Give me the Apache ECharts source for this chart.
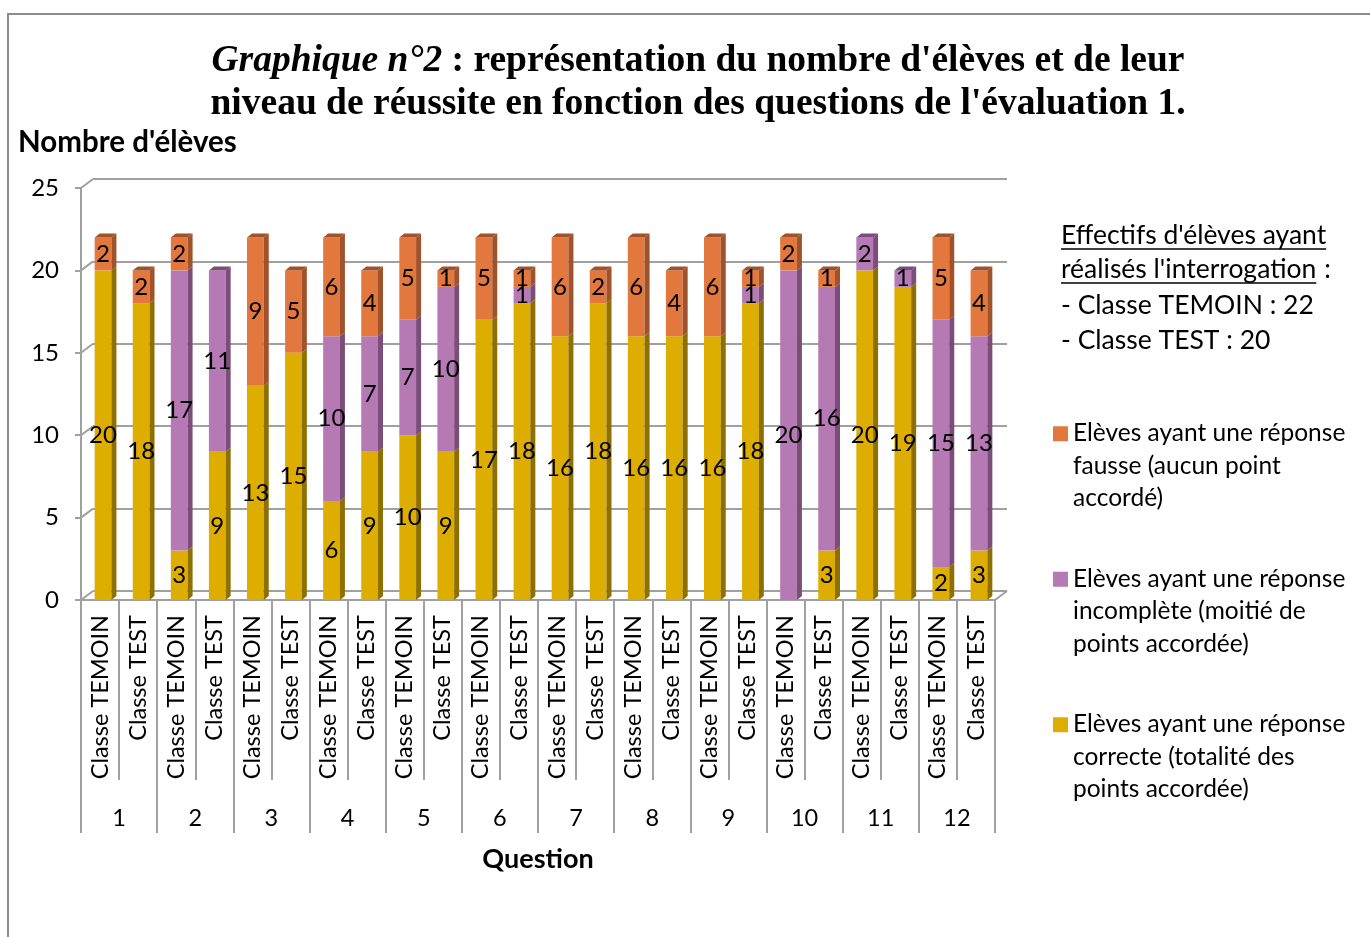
<!DOCTYPE html>
<html>
<head>
<meta charset="utf-8">
<script src="https://cdn.jsdelivr.net/npm/echarts@6/dist/echarts.min.js"></script>
<style>
  html, body { margin: 0; padding: 0; background: #fff; }
  #chart { width: 1370px; height: 937px; }
</style>
</head>
<body>
<div id="chart"></div>
<script>
// questions de l'évaluation et classes
var questions = ['1', '2', '3', '4', '5', '6', '7', '8', '9', '10', '11', '12'];
var classes = ['Classe TEMOIN', 'Classe TEST'];

// une valeur par barre : (Q1 TEMOIN, Q1 TEST, Q2 TEMOIN, ...)
var correcte = [20, 18, 3, 9, 13, 15, 6, 9, 10, 9, 17, 18, 16, 18, 16, 16, 16, 18, 0, 3, 20, 19, 2, 3];
var incomplete = [0, 0, 17, 11, 0, 0, 10, 7, 7, 10, 0, 1, 0, 0, 0, 0, 0, 1, 20, 16, 2, 1, 15, 13];
var fausse = [2, 2, 2, 0, 9, 5, 6, 4, 5, 1, 5, 1, 6, 2, 6, 4, 6, 1, 2, 1, 0, 0, 5, 4];

var yTicks = [0, 5, 10, 15, 20, 25];

var nomFausse = 'Elèves ayant une réponse\nfausse (aucun point\naccordé)';
var nomIncomplete = 'Elèves ayant une réponse\nincomplète (moitié de\npoints accordée)';
var nomCorrecte = 'Elèves ayant une réponse\ncorrecte (totalité des\npoints accordée)';

var FONT = 'Lato, "Noto Sans", sans-serif';

// libellés des barres
var barLabels = [];
for (var q = 0; q < questions.length; q++) {
  for (var c = 0; c < classes.length; c++) barLabels.push(classes[c]);
}

// segments empilés [index, bas, haut]
var base = correcte.map(function () { return 0; });
function segments(vals) {
  return vals.map(function (v, i) {
    var lo = base[i];
    base[i] += v;
    return [i, lo, lo + v];
  });
}
var segCorrecte = segments(correcte);
var segIncomplete = segments(incomplete);
var segFausse = segments(fausse);
var totals = base.slice();

// barre "3D" façon Excel
function bar3d(front, side) {
  return function (params, api) {
    var i = api.value(0), lo = api.value(1), hi = api.value(2);
    if (hi - lo <= 0) return null;
    var a = api.coord([i, lo]);
    var b = api.coord([i, hi]);
    var w = api.size([1, 0])[0] * 0.44;
    var x0 = a[0] - w / 2 + 3, x1 = x0 + w;
    var d = 5, dy = 4;
    var kids = [
      { type: 'rect', shape: { x: x0, y: b[1], width: w, height: a[1] - b[1] }, style: { fill: front } },
      { type: 'polygon', shape: { points: [[x1, b[1]], [x1 + d, b[1] - dy], [x1 + d, a[1] - dy], [x1, a[1]]] }, style: { fill: side } }
    ];
    if (hi === totals[i]) {
      kids.push({ type: 'polygon', shape: { points: [[x0, b[1]], [x0 + d, b[1] - dy], [x1 + d, b[1] - dy], [x1, b[1]]] }, style: { fill: side } });
    }
    kids.push({
      type: 'text', z2: 100,
      style: {
        text: String(hi - lo), x: x0 + w / 2, y: (a[1] + b[1]) / 2,
        align: 'center', verticalAlign: 'middle',
        font: '24px ' + FONT, fill: '#000'
      }
    });
    return { type: 'group', children: kids };
  };
}

var LEFT = 81, RIGHT = 375, TOP = 188, BOTTOM = 337;
var DX = 12, DY = -9;
var GRIS = '#A0A0A0';

var chart = echarts.init(document.getElementById('chart'));

var option = {
  backgroundColor: '#fff',
  animation: false,
  title: {
    text: "{i|Graphique n°2} : représentation du nombre d'élèves et de leur\nniveau de réussite en fonction des questions de l'évaluation 1.",
    left: 693, top: 35, textAlign: 'center',
    textStyle: {
      fontFamily: '"Liberation Serif", "Times New Roman", serif',
      fontWeight: 'bold', fontSize: 37.5, lineHeight: 43, color: '#000',
      rich: {
        i: { fontFamily: '"Liberation Serif", serif', fontStyle: 'italic', fontWeight: 'bold', fontSize: 37.5, lineHeight: 43 }
      }
    }
  },
  legend: {
    orient: 'vertical', left: 1053, top: 417, padding: 0,
    itemWidth: 15, itemHeight: 97, itemGap: 48,
    icon: 'path://M0,0L0.01,0L0.01,0.01L0,0.01Z M0,9L15,9L15,24L0,24Z M0,96.99L0.01,96.99L0.01,97L0,97Z',
    data: [nomFausse, nomIncomplete, nomCorrecte],
    textStyle: { fontFamily: FONT, fontSize: 24.5, lineHeight: 32.5, color: '#000' },
    selectedMode: false
  },
  grid: [
    { left: LEFT, right: RIGHT, top: TOP, bottom: BOTTOM },
    { left: LEFT + DX, right: RIGHT - DX, top: TOP + DY, bottom: BOTTOM - DY }
  ],
  xAxis: [
    {
      type: 'category', gridIndex: 0, data: barLabels,
      axisLine: { lineStyle: { color: GRIS, width: 2 } },
      axisTick: { show: true, alignWithLabel: false, interval: 0, length: 180, lineStyle: { color: GRIS, width: 2 } },
      axisLabel: { interval: 0, rotate: 90, margin: 15, fontFamily: FONT, fontSize: 23.5, color: '#000' }
    },
    {
      type: 'category', gridIndex: 0, position: 'bottom', data: questions,
      axisLine: { show: false },
      axisTick: { show: true, interval: 0, length: 233, lineStyle: { color: GRIS, width: 2 } },
      axisLabel: { interval: 0, margin: 206, fontFamily: FONT, fontSize: 23.5, color: '#000' },
      name: 'Question', nameLocation: 'middle', nameGap: 246,
      nameTextStyle: { fontFamily: FONT, fontWeight: 'bold', fontSize: 27, color: '#000' }
    },
    { type: 'category', gridIndex: 1, data: barLabels, show: false }
  ],
  yAxis: [
    {
      type: 'value', gridIndex: 0, min: 0, max: 25, interval: 5,
      axisLine: { show: true, lineStyle: { color: GRIS, width: 2 } },
      axisTick: { show: true, length: 6, lineStyle: { color: GRIS, width: 2 } },
      axisLabel: { margin: 22, fontFamily: FONT, fontSize: 24, color: '#000' },
      splitLine: { show: false }
    },
    {
      type: 'value', gridIndex: 1, min: 0, max: 25, interval: 5,
      axisLine: { show: false }, axisTick: { show: false }, axisLabel: { show: false },
      splitLine: { show: true, lineStyle: { color: GRIS, width: 2 } }
    }
  ],
  series: [
    {
      name: nomCorrecte, type: 'custom', xAxisIndex: 0, yAxisIndex: 0,
      itemStyle: { color: '#DDAD00' },
      renderItem: bar3d('#DDAD00', '#8E7000'),
      data: segCorrecte
    },
    {
      name: nomIncomplete, type: 'custom', xAxisIndex: 0, yAxisIndex: 0,
      itemStyle: { color: '#B57AB4' },
      renderItem: bar3d('#B57AB4', '#7A4E79'),
      data: segIncomplete
    },
    {
      name: nomFausse, type: 'custom', xAxisIndex: 0, yAxisIndex: 0,
      itemStyle: { color: '#E2783E' },
      renderItem: bar3d('#E2783E', '#A0522A'),
      data: segFausse
    }
  ]
};
chart.setOption(option);

// cadre, titre d'axe, encadré des effectifs, arêtes du "3D"
var graphics = [
  { type: 'rect', shape: { x: 8, y: 14, width: 1400, height: 1000 }, style: { fill: 'none', stroke: '#8C8C8C', lineWidth: 2 }, z: -10 },
  { type: 'text', left: 18, top: 127, style: { text: "Nombre d'élèves", font: 'bold 29.5px ' + FONT, fill: '#000' } }
];

yTicks.forEach(function (v) {
  var yf = chart.convertToPixel({ yAxisIndex: 0 }, v);
  var yb = chart.convertToPixel({ yAxisIndex: 1 }, v);
  graphics.push({ type: 'line', shape: { x1: LEFT, y1: yf, x2: LEFT + DX, y2: yb }, style: { stroke: GRIS, lineWidth: 2 } });
});
var y0f = chart.convertToPixel({ yAxisIndex: 0 }, 0);
var y0b = chart.convertToPixel({ yAxisIndex: 1 }, 0);
graphics.push({ type: 'line', shape: { x1: 1370 - RIGHT, y1: y0f, x2: 1370 - RIGHT + DX, y2: y0b }, style: { stroke: GRIS, lineWidth: 2 } });

var effLines = ["Effectifs d'élèves ayant", "réalisés l'interrogation", '- Classe TEMOIN : 22', '- Classe TEST : 20'];
var effY = [235, 269, 305, 340];
var EFF_FONT = '26.5px ' + FONT;
var ctx = document.createElement('canvas').getContext('2d');
ctx.font = EFF_FONT;
effLines.forEach(function (t, k) {
  graphics.push({ type: 'text', x: 1061, y: effY[k], style: { text: t, font: EFF_FONT, fill: '#000', verticalAlign: 'middle' } });
  if (k < 2) {
    var wt = ctx.measureText(t).width;
    graphics.push({ type: 'line', shape: { x1: 1061, y1: effY[k] + 14, x2: 1061 + wt, y2: effY[k] + 14 }, style: { stroke: '#000', lineWidth: 1.5 } });
  }
});
var wr = ctx.measureText(effLines[1]).width;
graphics.push({ type: 'text', x: 1061 + wr + 8, y: effY[1], style: { text: ':', font: EFF_FONT, fill: '#000', verticalAlign: 'middle' } });

chart.setOption({ graphic: graphics });
</script>
</body>
</html>
